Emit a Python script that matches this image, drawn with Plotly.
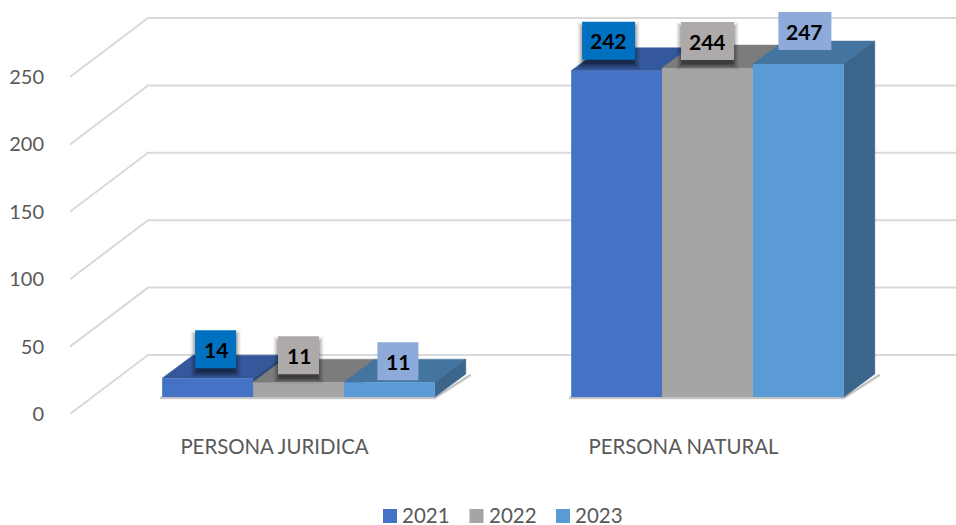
import plotly.graph_objects as go

CATEGORIES = ["PERSONA JURIDICA", "PERSONA NATURAL"]
YEARS = ["2021", "2022", "2023"]
VALUES_2021 = [14, 242]
VALUES_2022 = [11, 244]
VALUES_2023 = [11, 247]
Y_TICKS = [0, 50, 100, 150, 200, 250]

W, H = 956, 525
FRONT = ["#4472C4", "#A5A5A5", "#5B9BD5"]
TOP = ["#34589B", "#7C7C7C", "#4475A0"]
SIDE = ["#2C4A80", "#666666", "#3B658A"]
LABEL_BG = ["#0070C0", "#AEAAAA", "#8EAADB"]
LABEL_SHADOW = [True, True, False]
LABEL_W = [[41, 53], [41, 53], [41, 53]]
LABEL_DX = [[8, -8], [0, 0], [8.5, 6.5]]
LABEL_DY = [[29, 30], [27, 27], [21, 33]]
TEXT = "#595959"
FONT = "Lato, Carlito, sans-serif"

PX_CAT = 409.0
PX_UNIT = 337.0 / 250
BAR_W = 2 / 3 / 3
DEPTH_X, DEPTH_Y = 31 / PX_CAT, 23 / PX_UNIT
WALL_X, WALL_Y = 78 / PX_CAT, 59 / PX_UNIT
LEGEND_X, LEGEND_PITCH, LEGEND_Y, LEGEND_GAP = 390, 86.5, H - 515, 13

series = [VALUES_2021, VALUES_2022, VALUES_2023]
fig = go.Figure()

x_right = 1.5 + (W - 888) / PX_CAT
for t in Y_TICKS:
    fig.add_trace(go.Scatter(x=[-0.5, -0.5 + WALL_X, x_right], y=[t, t + WALL_Y, t + WALL_Y],
                             mode="lines", line=dict(color="#D9D9D9", width=2),
                             showlegend=False, hoverinfo="skip", xaxis="x", yaxis="y"))

for c in range(len(CATEGORIES)):
    left = c - 1.5 * BAR_W
    right = c + 1.5 * BAR_W
    for w, a in ((4, 0.05), (2.5, 0.10), (1.2, 0.16)):
        fig.add_trace(go.Scatter(x=[left - 0.005, right, right + DEPTH_X + 0.012],
                                 y=[-0.6, -0.6, DEPTH_Y - 0.6], mode="lines",
                                 line=dict(color=f"rgba(0,0,0,{a})", width=w),
                                 showlegend=False, hoverinfo="skip", xaxis="x2", yaxis="y2"))
    for s, vals in enumerate(series):
        v = vals[c]
        x0 = c + (s - 1.5) * BAR_W
        x1 = x0 + BAR_W
        fig.add_trace(go.Scatter(x=[x0, x1, x1 + DEPTH_X, x0 + DEPTH_X, x0],
                                 y=[v, v, v + DEPTH_Y, v + DEPTH_Y, v],
                                 mode="lines", fill="toself", fillcolor=TOP[s],
                                 line=dict(color=TOP[s], width=0.5),
                                 showlegend=False, hoverinfo="skip", xaxis="x2", yaxis="y2"))
        fig.add_trace(go.Scatter(x=[x1, x1 + DEPTH_X, x1 + DEPTH_X, x1, x1],
                                 y=[0, DEPTH_Y, v + DEPTH_Y, v, 0],
                                 mode="lines", fill="toself", fillcolor=SIDE[s],
                                 line=dict(color=SIDE[s], width=0.5),
                                 showlegend=False, hoverinfo="skip", xaxis="x2", yaxis="y2"))

for s, vals in enumerate(series):
    fig.add_trace(go.Bar(x=[0, 1], y=vals, name=YEARS[s], marker=dict(color=FRONT[s], line=dict(width=0)),
                         showlegend=False, xaxis="x3", yaxis="y3"))

shapes, annotations = [], []

# legend: keys and texts placed on a page-sized hidden axis
for s, year in enumerate(YEARS):
    kx = LEGEND_X + s * LEGEND_PITCH
    fig.add_trace(go.Scatter(x=[kx], y=[H - 516], mode="markers", name=year,
                             marker=dict(symbol="square", size=14, color=FRONT[s], line=dict(width=0)),
                             showlegend=False, hoverinfo="skip", xaxis="x4", yaxis="y4"))
    annotations.append(dict(x=kx + LEGEND_GAP, y=LEGEND_Y, xref="x4", yref="y4", text=year,
                            showarrow=False, xanchor="left", yanchor="middle", xshift=-2, borderpad=0,
                            font=dict(family=FONT, size=20.5, color=TEXT)))

for s, vals in enumerate(series):
    for c, v in enumerate(vals):
        bw = LABEL_W[s][c]
        dx, dy = LABEL_DX[s][c], LABEL_DY[s][c]
        cx = c + (s - 1) * BAR_W
        def box(grow, down, color):
            return dict(type="rect", xref="x3", yref="y3", layer="above",
                        xsizemode="pixel", ysizemode="pixel", xanchor=cx, yanchor=v,
                        x0=dx - bw / 2 - grow, x1=dx + bw / 2 + grow,
                        y0=dy - 19 - grow - down, y1=dy + 19 + grow - down,
                        fillcolor=color, line=dict(width=0))
        if LABEL_SHADOW[s]:
            for g, a in ((5, 0.03), (4, 0.05), (3, 0.07), (2, 0.09), (1, 0.11), (0, 0.14), (-1, 0.16)):
                shapes.append(box(g, 5, f"rgba(0,0,0,{a})"))
        shapes.append(box(0, 0, LABEL_BG[s]))
        annotations.append(dict(x=cx, y=v, xref="x3", yref="y3", xshift=dx, yshift=dy,
                                text=f"<b>{v}</b>", showarrow=False,
                                xanchor="center", yanchor="middle",
                                font=dict(family=FONT, size=21, color="#000000")))

def dom(a, b, size):
    return [a / size, b / size]

y_dom = dom(H - 414, H - 414 + 300 * PX_UNIT, H)
y2_low = H - 397 - 5 * PX_UNIT
y2_dom = dom(y2_low, y2_low + 295 * PX_UNIT, H)
hidden = dict(visible=False, fixedrange=True, automargin=False)
x2 = dict(hidden, domain=dom(94, 94 + 2 * PX_CAT, W), range=[-0.5, 1.5])
y2 = dict(hidden, domain=y2_dom, range=[-5, 290])

fig.update_layout(
    width=W, height=H, autosize=False, margin=dict(l=0, r=0, t=0, b=0, pad=0),
    paper_bgcolor="white", plot_bgcolor="rgba(0,0,0,0)", showlegend=False,
    barmode="group", bargap=1 / 3, bargroupgap=0,
    xaxis=dict(domain=dom(70, W, W), range=[-0.5, x_right], tickmode="array", tickvals=[0, 1],
               ticktext=CATEGORIES, tickfont=dict(family=FONT, size=20.4, color=TEXT),
               showgrid=False, zeroline=False, showline=False, ticks="outside", automargin=False,
               ticklen=15, tickcolor="rgba(0,0,0,0)", fixedrange=True),
    yaxis=dict(domain=y_dom, range=[0, 300], tickmode="array", tickvals=Y_TICKS,
               tickfont=dict(family=FONT, size=20, color=TEXT), showgrid=False, automargin=False,
               zeroline=False, showline=False, ticks="outside", ticklen=21,
               tickcolor="rgba(0,0,0,0)", fixedrange=True),
    xaxis2=dict(x2, anchor="y2"), yaxis2=dict(y2, anchor="x2"),
    xaxis3=dict(x2, anchor="y3"), yaxis3=dict(y2, anchor="x3"),
    xaxis4=dict(hidden, domain=[0, 1], range=[0, W], anchor="y4"),
    yaxis4=dict(hidden, domain=[0, 1], range=[0, H], anchor="x4"),
    shapes=shapes, annotations=annotations,
)
fig.write_html("out.html", config={"displayModeBar": False},
               post_script="document.body.style.margin='0';document.body.style.overflow='hidden';")
